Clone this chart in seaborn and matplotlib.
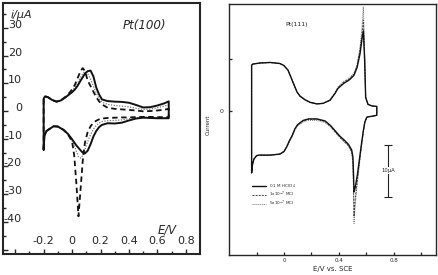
import matplotlib
matplotlib.use('Agg')
import matplotlib.pyplot as plt
import seaborn as sns

# ---- Pt(100): 扫描电位 (V) 与电流 (uA) ----
pt100_e_up = [-0.2, -0.2, -0.19, -0.17, -0.14, -0.11, -0.08, -0.05, -0.02, 0.0, 0.02, 0.04,
              0.06, 0.075, 0.09, 0.11, 0.13, 0.15, 0.17, 0.19, 0.21, 0.25, 0.3, 0.35, 0.4,
              0.45, 0.5, 0.55, 0.6, 0.65, 0.68]
pt100_solid_up = [-14, 4.5, 5.3, 5.0, 4.0, 3.4, 3.8, 4.8, 6.0, 6.8, 7.8, 9.2, 11.0, 12.2,
                  13.5, 14.4, 14.6, 12.5, 8.5, 6.0, 4.2, 3.6, 3.4, 3.3, 3.0, 2.2, 1.3, 1.4,
                  2.0, 2.8, 3.5]
pt100_dash_up = [-14, 4.5, 5.3, 5.0, 4.0, 3.4, 3.8, 5.0, 6.5, 7.8, 9.5, 12.0, 14.5, 15.5,
                 14.5, 11.0, 9.0, 7.0, 5.0, 3.5, 2.4, 1.2, 0.8, 0.6, 0.4, 0.2, -0.1, 0.0,
                 0.2, 0.5, 0.8]
pt100_dot_up = [-14, 4.5, 5.3, 5.0, 4.0, 3.4, 3.8, 4.9, 6.2, 7.2, 8.5, 10.2, 12.2, 13.5,
                14.2, 13.5, 11.5, 9.0, 6.5, 4.5, 3.2, 2.4, 2.0, 1.8, 1.5, 1.0, 0.6, 0.7,
                1.2, 1.8, 2.2]

pt100_e_down = [0.68, 0.6, 0.55, 0.5, 0.45, 0.4, 0.35, 0.3, 0.25, 0.21, 0.19, 0.17, 0.15,
                0.13, 0.11, 0.09, 0.075, 0.06, 0.045, 0.03, 0.015, 0.0, -0.03, -0.06, -0.1,
                -0.13, -0.16, -0.18, -0.195, -0.2]
pt100_solid_down = [-2.6, -2.6, -2.5, -2.4, -2.7, -3.4, -4.2, -4.5, -4.4, -5.0, -5.8, -7.2,
                    -9.2, -12.0, -14.3, -15.3, -15.0, -14.2, -13.3, -12.4, -11.3, -10.2,
                    -8.2, -6.8, -5.6, -5.5, -6.5, -7.2, -9.0, -14]
pt100_dash_down = [-2.2, -2.2, -2.1, -2.1, -2.2, -2.3, -2.3, -2.4, -2.5, -2.7, -3.0, -3.5,
                   -4.2, -5.5, -7.5, -11.5, -18, -28, -38, -26, -16, -11, -8.3, -6.8, -5.6,
                   -5.5, -6.5, -7.2, -9.0, -14]
pt100_dot_down = [-2.4, -2.4, -2.3, -2.2, -2.4, -2.8, -3.2, -3.4, -3.5, -3.8, -4.3, -5.2,
                  -6.5, -8.5, -11.0, -14.0, -16.0, -17.0, -16.5, -14.5, -12.5, -10.8, -8.3,
                  -6.8, -5.6, -5.5, -6.5, -7.2, -9.0, -14]

# ---- Pt(111) ----
pt111_e_up = [-0.236, -0.236, -0.226, -0.175, -0.1, -0.03, 0.0, 0.03, 0.05, 0.073, 0.095,
              0.117, 0.153, 0.19, 0.24, 0.285, 0.336, 0.372, 0.394, 0.438, 0.48, 0.51,
              0.533, 0.555, 0.57, 0.579, 0.588, 0.596, 0.613, 0.642, 0.677]
pt111_solid_up = [-12, 8.8, 9.0, 9.2, 9.3, 9.1, 8.7, 7.8, 6.5, 5.0, 3.6, 2.8, 2.1, 1.6, 1.3,
                  1.4, 2.0, 3.3, 4.3, 5.3, 6.0, 6.8, 8.3, 11.0, 14.0, 15.4, 10.0, 2.5, 1.2,
                  0.9, 0.8]
pt111_dash_up = [-12, 8.8, 9.0, 9.2, 9.3, 9.1, 8.7, 7.8, 6.5, 5.0, 3.6, 2.8, 2.1, 1.6, 1.3,
                 1.4, 2.0, 3.4, 4.4, 5.5, 6.2, 7.0, 8.6, 11.8, 15.0, 17.5, 11.0, 2.6, 1.2,
                 0.9, 0.8]
pt111_dot_up = [-12, 8.8, 9.0, 9.2, 9.3, 9.1, 8.7, 7.8, 6.5, 5.0, 3.6, 2.8, 2.1, 1.6, 1.3,
                1.4, 2.1, 3.5, 4.6, 5.7, 6.4, 7.2, 8.8, 12.2, 16.5, 20.0, 12.0, 2.7, 1.2,
                0.9, 0.8]

pt111_e_down = [0.677, 0.642, 0.613, 0.604, 0.59, 0.58, 0.565, 0.55, 0.535, 0.52, 0.511,
                0.507, 0.503, 0.494, 0.47, 0.44, 0.41, 0.39, 0.37, 0.34, 0.3, 0.24, 0.18,
                0.14, 0.1, 0.08, 0.06, 0.04, 0.02, 0.0, -0.03, -0.1, -0.18, -0.2, -0.22,
                -0.23, -0.236]
pt111_solid_down = [-0.9, -1.1, -1.2, -1.3, -2.2, -3.7, -6.5, -9.5, -12.5, -14.8, -15.7,
                    -12.0, -9.0, -7.6, -6.5, -5.7, -5.0, -4.4, -3.8, -2.9, -2.0, -1.6, -1.6,
                    -1.9, -2.7, -3.5, -4.8, -5.8, -7.0, -7.9, -8.4, -8.6, -8.6, -8.7, -9.4,
                    -10.5, -12]
pt111_dash_down = [-0.9, -1.1, -1.2, -1.3, -2.2, -3.8, -6.8, -10.0, -13.5, -17.0, -20.5,
                   -14.0, -9.8, -8.0, -6.8, -6.0, -5.2, -4.6, -4.0, -3.0, -2.1, -1.7, -1.7,
                   -2.0, -2.8, -3.6, -4.9, -5.9, -7.0, -7.9, -8.4, -8.6, -8.6, -8.7, -9.4,
                   -10.5, -12]
pt111_dot_down = [-0.9, -1.1, -1.2, -1.3, -2.3, -3.9, -7.0, -10.5, -14.0, -18.0, -21.8,
                  -15.0, -10.0, -8.0, -6.8, -6.0, -5.3, -4.7, -4.1, -3.2, -2.3, -1.9, -1.9,
                  -2.2, -2.9, -3.7, -5.0, -6.0, -7.1, -8.0, -8.4, -8.6, -8.6, -8.7, -9.4,
                  -10.5, -12]

legend_labels = ['0.1 M HClO$_4$', '1x10$^{-7}$ MCl', '5x10$^{-7}$ MCl']
scale_bar_e = 0.76
scale_bar_i = (-16.6, -6.6)

sns.set_style('ticks')
plt.rcParams['font.family'] = ['DejaVu Sans']

fig = plt.figure(figsize=(4.39, 2.75), dpi=100)
ax1 = fig.add_axes([3 / 439, 21 / 275, 197 / 439, 251 / 275])
ax2 = fig.add_axes([229 / 439, 20 / 275, 207 / 439, 251 / 275])

# 左图 Pt(100)
styles1 = [
    (pt100_dot_up, pt100_dot_down, dict(color='#777777', lw=0.9, linestyle=(0, (1, 1.2)))),
    (pt100_dash_up, pt100_dash_down, dict(color='#111111', lw=1.3, linestyle=(0, (3, 2)))),
    (pt100_solid_up, pt100_solid_down, dict(color='#111111', lw=1.4, linestyle='-')),
]
for up, down, kw in styles1:
    sns.lineplot(x=pt100_e_up + pt100_e_down, y=up + down, sort=False, estimator=None,
                 ax=ax1, **kw)

ax1.set_xlim(-0.486, 0.90)
ax1.set_ylim(-51.6, 39)
ax1.set_xticks([-0.4, -0.2, 0, 0.2, 0.4, 0.6, 0.8])
ax1.set_xticklabels(['', '-0.2', '0', '0.2', '0.4', '0.6', '0.8'])
ax1.set_xticks([-0.3, -0.1, 0.1, 0.3, 0.5, 0.7], minor=True)
ax1.set_yticks([-50, -40, -30, -20, -10, 0, 10, 20, 30])
ax1.set_yticklabels(['', '-40', '-30', '-20', '-10', '0', '10', '20', '30'])
ax1.set_yticks([-45, -35, -25, -15, -5, 5, 15, 25, 35], minor=True)
ax1.tick_params(axis='x', which='major', direction='in', length=3.6, width=1.0,
                pad=-13, labelsize=8)
ax1.tick_params(axis='x', which='minor', direction='in', length=2.2, width=1.0)
ax1.tick_params(axis='y', which='major', direction='in', length=3.6, width=1.0,
                pad=-13.7, labelsize=8)
ax1.tick_params(axis='y', which='minor', direction='in', length=2.2, width=1.0)
for t in ax1.get_yticklabels():
    t.set_va('baseline')
for s in ax1.spines.values():
    s.set_linewidth(1.5)
ax1.set_xlabel('')
ax1.set_ylabel('')
ax1.text(0.091, 0.952, 'i/μA', transform=ax1.transAxes, style='italic', fontsize=8,
         ha='center', va='center')
ax1.text(0.72, 0.912, 'Pt(100)', transform=ax1.transAxes, style='italic', fontsize=8.6,
         ha='center', va='center')
ax1.text(0.832, 0.096, 'E/V', transform=ax1.transAxes, style='italic', fontsize=8.3,
         ha='center', va='center')

# 右图 Pt(111)
styles2 = [
    (pt111_dot_up, pt111_dot_down, dict(color='#777777', lw=0.7, linestyle=(0, (1, 1)))),
    (pt111_dash_up, pt111_dash_down, dict(color='#444444', lw=0.7, linestyle=(0, (2, 1.2)))),
    (pt111_solid_up, pt111_solid_down, dict(color='#111111', lw=1.0, linestyle='-')),
]
handles = []
for up, down, kw in styles2:
    sns.lineplot(x=pt111_e_up + pt111_e_down, y=up + down, sort=False, estimator=None,
                 ax=ax2, **kw)
    handles.append(ax2.lines[-1])

ax2.set_xlim(-0.401, 1.109)
ax2.set_ylim(-27.9, 20.6)
ax2.set_xticks([-0.2, 0, 0.2, 0.4, 0.6, 0.8, 1.0])
ax2.set_xticklabels(['', '0', '', '0.4', '', '0.8', ''])
ax2.set_yticks([0, 10])
ax2.set_yticklabels(['0', ''])
ax2.tick_params(axis='x', direction='in', length=2.5, width=0.9, pad=2.5, labelsize=4)
ax2.tick_params(axis='y', direction='in', length=2.5, width=0.9, pad=4, labelsize=4.5)
for s in ax2.spines.values():
    s.set_linewidth(1.0)
ax2.set_xlabel('E/V vs. SCE', fontsize=5, labelpad=2)
ax2.set_ylabel('Current', fontsize=4)
ax2.yaxis.set_label_coords(-0.087, 0.52)
ax2.text(0.09, 16.6, 'Pt(111)', fontsize=4.5, ha='center', va='center')

leg = ax2.legend([handles[2], handles[1], handles[0]], legend_labels, loc='upper left',
                 bbox_to_anchor=(0.10, 0.30), frameon=False, fontsize=3,
                 handlelength=3.2, labelspacing=0.0, handletextpad=0.8,
                 borderaxespad=0.2)

ax2.errorbar([scale_bar_e], [sum(scale_bar_i) / 2], yerr=[(scale_bar_i[1] - scale_bar_i[0]) / 2],
             color='#222222', lw=0.8, capsize=3, capthick=0.8)
ax2.text(scale_bar_e, sum(scale_bar_i) / 2, '10μA', fontsize=3.8, ha='center', va='center',
         bbox=dict(facecolor='white', edgecolor='none', pad=0.5))

fig.savefig('out.png', dpi=100)
